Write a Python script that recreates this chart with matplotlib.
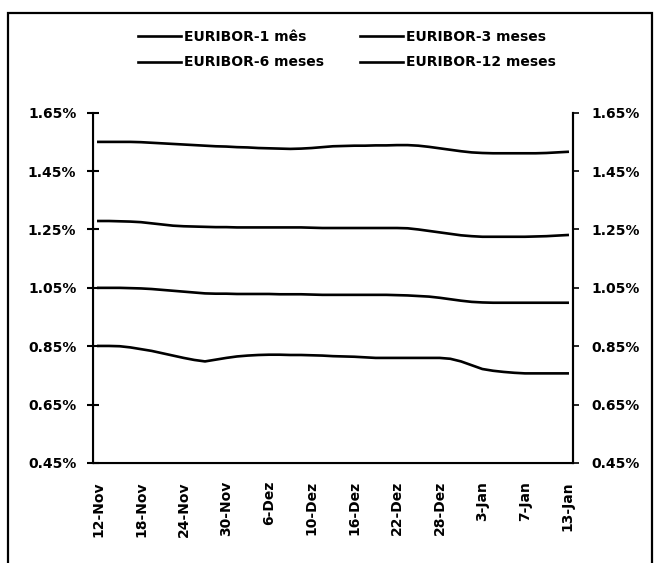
import matplotlib
matplotlib.use("Agg")
import matplotlib.pyplot as plt
from matplotlib.patches import Rectangle

# ---- data (business days, 12-Nov to 13-Jan) ----
tick_labels = ["12-Nov", "18-Nov", "24-Nov", "30-Nov", "6-Dez", "10-Dez",
               "16-Dez", "22-Dez", "28-Dez", "3-Jan", "7-Jan", "13-Jan"]
label_step = 4

eur_1m = [0.851, 0.851, 0.850, 0.846, 0.840, 0.834, 0.826, 0.818, 0.810, 0.803,
          0.798, 0.804, 0.810, 0.815, 0.818, 0.820, 0.821, 0.821, 0.820, 0.820,
          0.819, 0.818, 0.816, 0.815, 0.814, 0.812, 0.810, 0.810, 0.810, 0.810,
          0.810, 0.810, 0.810, 0.807, 0.798, 0.785, 0.772, 0.766, 0.762, 0.759,
          0.757, 0.757, 0.757, 0.757, 0.757]
eur_3m = [1.050, 1.050, 1.050, 1.049, 1.048, 1.046, 1.043, 1.040, 1.037, 1.034,
          1.031, 1.030, 1.030, 1.029, 1.029, 1.029, 1.029, 1.028, 1.028, 1.028,
          1.027, 1.026, 1.026, 1.026, 1.026, 1.026, 1.026, 1.026, 1.025, 1.024,
          1.022, 1.020, 1.016, 1.011, 1.006, 1.002, 1.000, 0.999, 0.999, 0.999,
          0.999, 0.999, 0.999, 0.999, 0.999]
eur_6m = [1.279, 1.279, 1.278, 1.277, 1.275, 1.271, 1.267, 1.263, 1.261, 1.260,
          1.259, 1.258, 1.258, 1.257, 1.257, 1.257, 1.257, 1.257, 1.257, 1.257,
          1.256, 1.255, 1.255, 1.255, 1.255, 1.255, 1.255, 1.255, 1.255, 1.254,
          1.250, 1.245, 1.240, 1.235, 1.230, 1.227, 1.225, 1.225, 1.225, 1.225,
          1.225, 1.226, 1.227, 1.229, 1.231]
eur_12m = [1.550, 1.550, 1.550, 1.550, 1.549, 1.547, 1.545, 1.543, 1.541, 1.539,
           1.537, 1.535, 1.534, 1.532, 1.531, 1.529, 1.528, 1.527, 1.526, 1.527,
           1.529, 1.532, 1.535, 1.536, 1.537, 1.537, 1.538, 1.538, 1.539, 1.539,
           1.537, 1.533, 1.528, 1.523, 1.518, 1.514, 1.512, 1.511, 1.511, 1.511,
           1.511, 1.511, 1.512, 1.514, 1.516]

series_names = ["EURIBOR-1 mês", "EURIBOR-3 meses", "EURIBOR-6 meses", "EURIBOR-12 meses"]
y_ticks = [0.45, 0.65, 0.85, 1.05, 1.25, 1.45, 1.65]

plt.rcParams["font.family"] = ["DejaVu Sans"]
plt.rcParams["font.weight"] = "bold"

W, H = 659, 563
fig = plt.figure(figsize=(W / 100, H / 100), dpi=100)
fig.patch.set_facecolor("white")

# outer frame
fig.patches.append(Rectangle((8 / W, -0.05), (652 - 8) / W, 1.05 - 13 / H,
                             transform=fig.transFigure, fill=False,
                             edgecolor="black", linewidth=1.6))

ax = fig.add_axes([93 / W, 1 - 463 / H, (573 - 93) / W, (463 - 112.7) / H])
x = list(range(len(eur_1m)))
handles = []
for vals, name in zip([eur_1m, eur_3m, eur_6m, eur_12m], series_names):
    h, = ax.plot(x, vals, color="black", linewidth=1.9, label=name)
    handles.append(h)

ax.set_xlim(-0.5, len(x) - 0.5)
ax.set_ylim(0.45, 1.65)
ax.set_yticks(y_ticks)
ax.set_yticklabels([f"{v:.2f}%" for v in y_ticks], fontsize=10, fontweight="bold")
ax.set_xticks(x[::label_step])
ax.set_xticklabels(tick_labels, rotation=90, fontsize=10, fontweight="bold")
ax.tick_params(axis="x", length=0, pad=13)
ax.tick_params(axis="y", direction="inout", length=8, width=1.5, pad=8)
for s in ["left", "bottom", "right"]:
    ax.spines[s].set_linewidth(1.5)
ax.spines["top"].set_visible(False)

ax2 = ax.twinx()
ax2.set_ylim(0.45, 1.65)
ax2.set_yticks(y_ticks)
ax2.set_yticklabels([f"{v:.2f}%" for v in y_ticks], fontsize=10, fontweight="bold")
ax2.tick_params(axis="y", direction="out", length=4, width=1.2, pad=9)
ax2.spines["top"].set_visible(False)
ax2.spines["right"].set_linewidth(1.5)

# legend: row1 = 1 mês, 3 meses ; row2 = 6 meses, 12 meses (column-first fill)
order = [0, 2, 1, 3]
fig.legend([handles[i] for i in order], [series_names[i] for i in order],
           ncol=2, loc="center", bbox_to_anchor=(347 / W, 1 - 49.5 / H),
           frameon=False, prop={"size": 10, "weight": "bold"},
           handlelength=3.1, handletextpad=0.2, columnspacing=2.6,
           labelspacing=0.85)

fig.savefig("out.png", dpi=100, facecolor="white")
